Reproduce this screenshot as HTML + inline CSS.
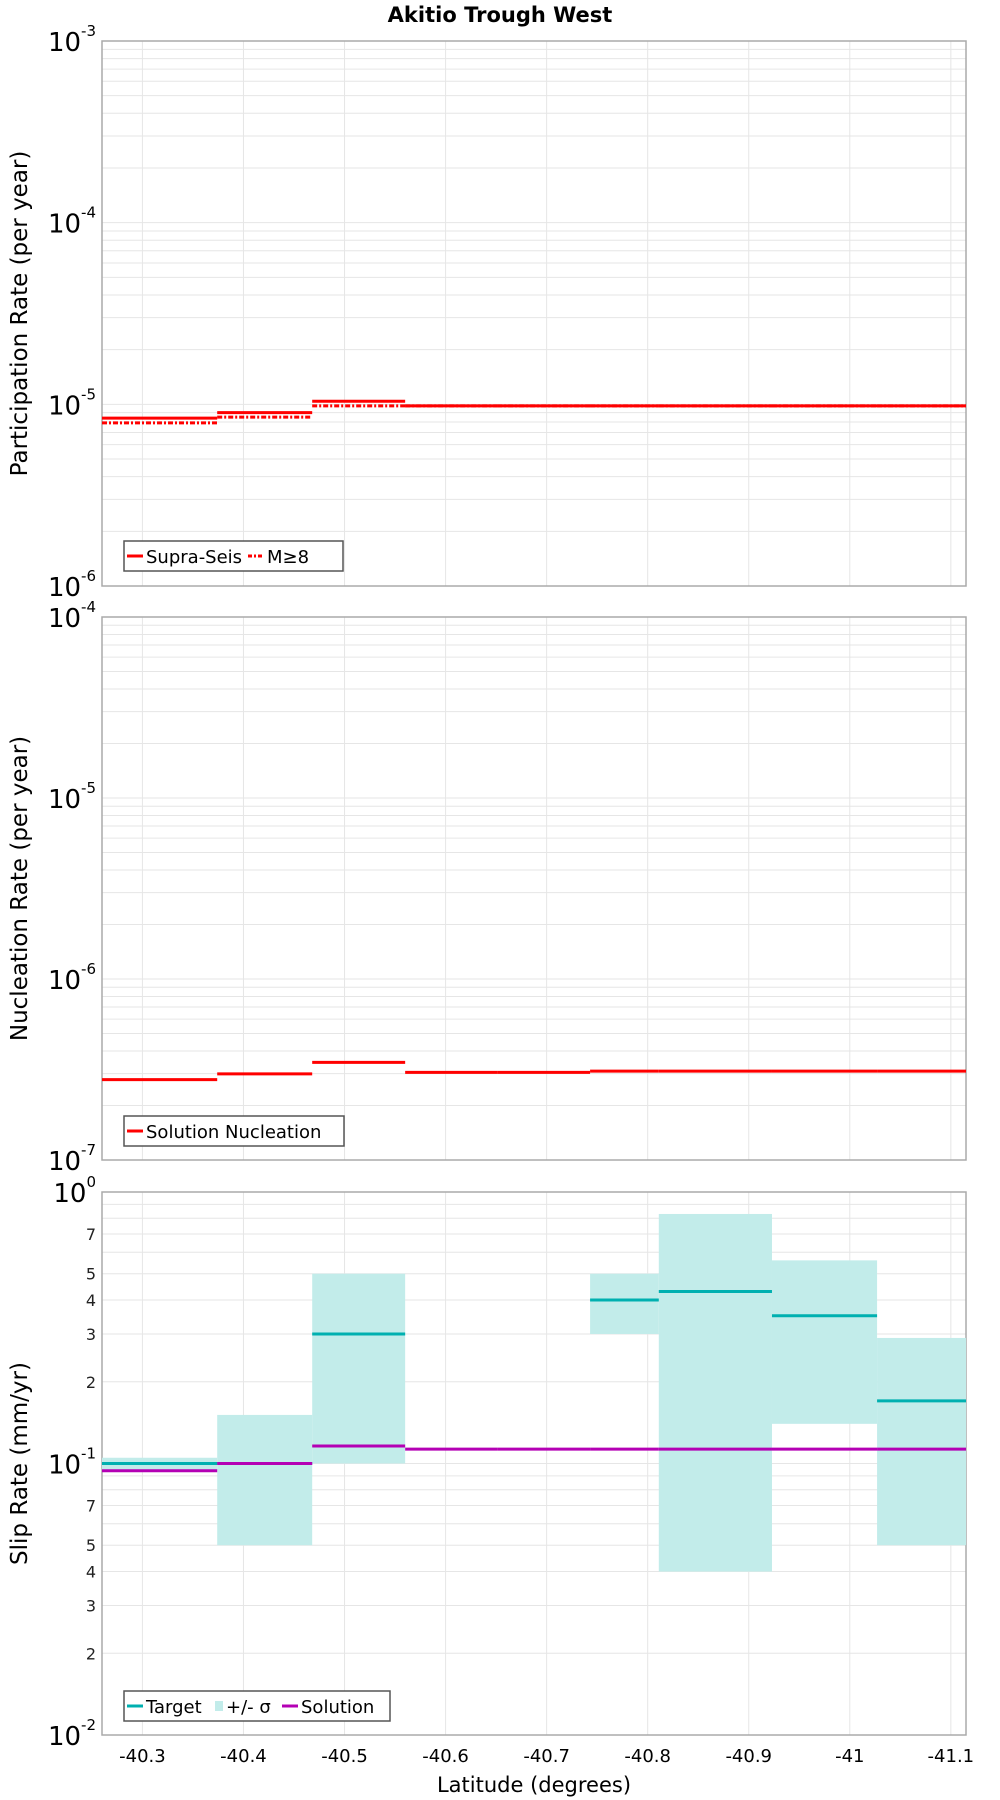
<!DOCTYPE html>
<html><head><meta charset="utf-8"><style>
html,body{margin:0;padding:0;background:#fff}
svg{display:block;font-family:"DejaVu Sans","Liberation Sans",sans-serif}
</style></head><body>
<svg id="chart" width="1000" height="1800" viewBox="0 0 1000 1800" xmlns="http://www.w3.org/2000/svg">
<text x="500" y="22" text-anchor="middle" font-size="21" font-weight="bold">Akitio Trough West</text>
</svg>
<script>
// data
const segEdges = [-40.26,-40.374,-40.468,-40.56,-40.651,-40.743,-40.811,-40.923,-41.027,-41.115];
const supraSeis = [8.4e-6,9.0e-6,1.04e-5,9.8e-6,9.8e-6,9.8e-6,9.8e-6,9.8e-6,9.8e-6];
const m8 = [7.9e-6,8.5e-6,9.8e-6,9.8e-6,9.8e-6,9.8e-6,9.8e-6,9.8e-6,9.8e-6];
const nucleation = [2.78e-7,2.99e-7,3.46e-7,3.05e-7,3.05e-7,3.1e-7,3.1e-7,3.1e-7,3.1e-7];
const targetSlip = [0.1,0.1,0.3,null,null,0.4,0.43,0.35,0.17];
const sigmaHigh = [0.105,0.151,0.5,null,null,0.5,0.83,0.56,0.29];
const sigmaLow = [0.095,0.05,0.1,null,null,0.3,0.04,0.14,0.05];
const solutionSlip = [0.094,0.1,0.116,0.113,0.113,0.113,0.113,0.113,0.113];
const xTicks = [-40.3,-40.4,-40.5,-40.6,-40.7,-40.8,-40.9,-41,-41.1];
const xTickLabels = ["-40.3","-40.4","-40.5","-40.6","-40.7","-40.8","-40.9","-41","-41.1"];

const svg = document.getElementById('chart');
const NS = 'http://www.w3.org/2000/svg';
function mk(tag, attrs, parent){const e=document.createElementNS(NS,tag);for(const k in attrs)e.setAttribute(k,attrs[k]);(parent||svg).appendChild(e);return e;}
const L=102, R=966, X0=-40.26, X1=-41.115;
const xs = v => L + (v-X0)/(X1-X0)*(R-L);

const panels = [
 {top:41,bot:586,lo:-6,hi:-3,title:"Participation Rate (per year)",name:"participation-panel",minorLabels:false},
 {top:617,bot:1160,lo:-7,hi:-4,title:"Nucleation Rate (per year)",name:"nucleation-panel",minorLabels:false},
 {top:1192,bot:1735,lo:-2,hi:0,title:"Slip Rate (mm/yr)",name:"slip-panel",minorLabels:true}
];
panels.forEach(p=>{ p.ys = v => p.bot - (Math.log10(v)-p.lo)/(p.hi-p.lo)*(p.bot-p.top); });

function drawPanel(p){
  const g=mk('g',{});
  
  
  for(let d=p.lo; d<p.hi; d++){
    for(let m=1;m<=9;m++){
      const v=m*Math.pow(10,d); const y=p.ys(v);
      const gl=mk('line',{x1:L,x2:R,y1:y,y2:y,stroke:'#e6e6e6','stroke-width':1},g);
      
      
      if(m===1){
        const t=mk('text',{x:L-6,y:y+10,'text-anchor':'end','font-size':26},g);
        t.textContent='10';
        
        
        const s=mk('tspan',{dy:-15,'font-size':15},t); s.textContent=String(d);
      } else if(p.minorLabels && [2,3,4,5,7].includes(m)){
        const t=mk('text',{x:L-6,y:y+6,'text-anchor':'end','font-size':16,fill:'#222'},g);
        t.textContent=String(m);
        
        
      }
    }
  }
  const yt=p.ys(Math.pow(10,p.hi));
  const t=mk('text',{x:L-6,y:yt+10,'text-anchor':'end','font-size':26},g);
  t.textContent='10';
  
  
  const s=mk('tspan',{dy:-15,'font-size':15},t); s.textContent=String(p.hi);
  xTicks.forEach(v=>{
    const gl=mk('line',{x1:xs(v),x2:xs(v),y1:p.top,y2:p.bot,stroke:'#e6e6e6','stroke-width':1},g);
    
    
  });
  const f=mk('rect',{x:L,y:p.top,width:R-L,height:p.bot-p.top,fill:'none',stroke:'#aaa','stroke-width':1.5},g);
  
  
  const cy=(p.top+p.bot)/2;
  const yl=mk('text',{x:27,y:cy,'text-anchor':'middle','font-size':23,transform:`rotate(-90 27 ${cy})`},g);
  yl.textContent=p.title;
  
  
}
panels.forEach(drawPanel);

function steps(p, arr, color, name, dash){
  arr.forEach((v,i)=>{
    if(v==null) return;
    const y=p.ys(v);
    const attrs={x1:xs(segEdges[i]),x2:xs(segEdges[i+1]),y1:y,y2:y,stroke:color,'stroke-width':3};
    if(dash) attrs['stroke-dasharray']=dash;
    const l=mk('line',attrs);
    
    
  });
}
steps(panels[0], m8, '#ff0000', 'm8-segment', '5,2,2,2');
steps(panels[0], supraSeis, '#ff0000', 'supra-seis-segment');
steps(panels[1], nucleation, '#ff0000', 'nucleation-segment');
sigmaHigh.forEach((hi,i)=>{
  if(hi==null) return;
  const p=panels[2]; const y1=p.ys(hi), y2=p.ys(sigmaLow[i]);
  const r=mk('rect',{x:xs(segEdges[i]),y:y1,width:xs(segEdges[i+1])-xs(segEdges[i]),height:y2-y1,fill:'#c2ecea'});
  
  
});
steps(panels[2], targetSlip, '#00b0b0', 'target-segment');
steps(panels[2], solutionSlip, '#b400b4', 'solution-segment');

xTicks.forEach((v,i)=>{
  const t=mk('text',{x:xs(v),y:1762,'text-anchor':'middle','font-size':18});
  t.textContent=xTickLabels[i];
  
  
});
const xt=mk('text',{x:534,y:1792,'text-anchor':'middle','font-size':21});
xt.textContent='Latitude (degrees)';



function legend(x,y,w,items,name){
  const g=mk('g',{});
  
  
  mk('rect',{x:x,y:y,width:w,height:30,fill:'#fff',stroke:'#555','stroke-width':1.5},g);
  let cx=x+3;
  items.forEach(it=>{
    if(it.type==='rect'){ mk('rect',{x:cx+1,y:y+10,width:8,height:10,fill:it.color},g); cx+=12; }
    else { const a={x1:cx,x2:cx+16,y1:y+15,y2:y+15,stroke:it.color,'stroke-width':3}; if(it.dash)a['stroke-dasharray']=it.dash; mk('line',a,g); cx+=19; }
    const t=mk('text',{x:cx,y:y+22,'font-size':18},g); t.textContent=it.label;
    
    
    cx+=it.w;
  });
}
legend(124,541,219,[{color:'#ff0000',label:'Supra-Seis',w:102},{color:'#ff0000',dash:'4,2,2,2',label:'M≥8',w:40}],'participation-legend');
legend(124,1116,220,[{color:'#ff0000',label:'Solution Nucleation',w:180}],'nucleation-legend');
legend(124,1691,266,[{color:'#00b0b0',label:'Target',w:68},{type:'rect',color:'#c2ecea',label:'+/- σ',w:56},{color:'#b400b4',label:'Solution',w:80}],'slip-legend');
</script>
</body></html>
